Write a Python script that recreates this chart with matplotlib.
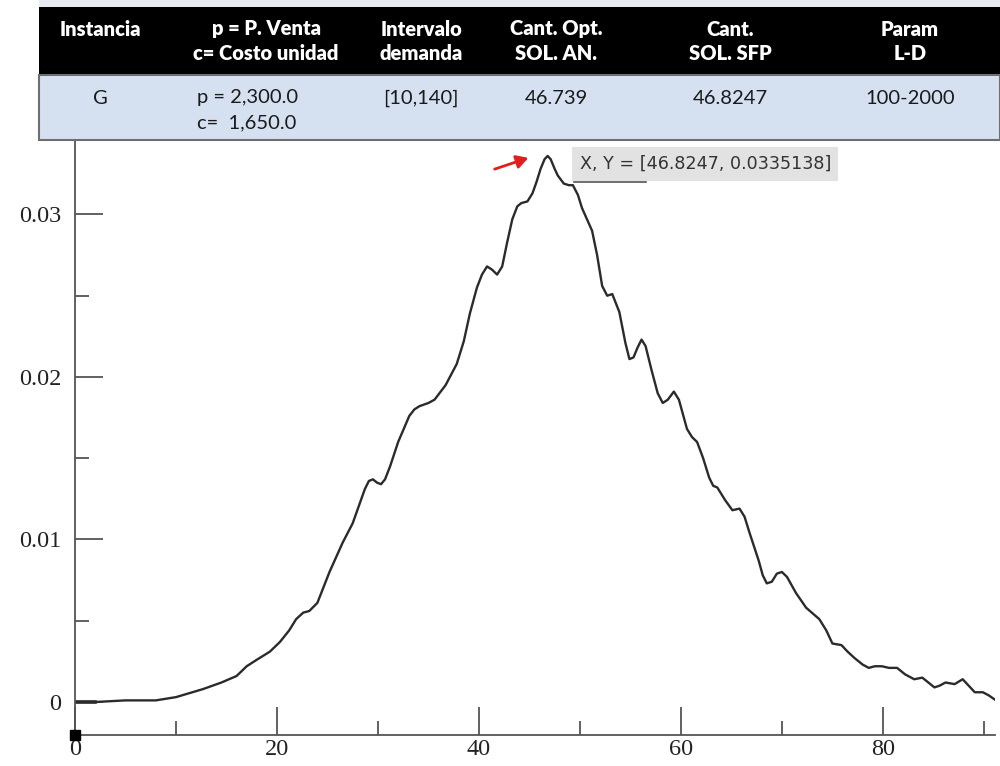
import matplotlib
matplotlib.use("Agg")
import matplotlib.pyplot as plt
from matplotlib.patches import Rectangle, FancyArrowPatch
from matplotlib.lines import Line2D
from matplotlib.ticker import MultipleLocator

# ---------------- data ----------------
curve_x = [0, 2, 5, 8, 10, 12.7, 14.5, 16, 17, 18, 19.3, 20.3, 21.2, 21.9,
           22.6, 23.2, 24, 25.2, 26.5, 27.5, 28.3, 28.7, 29.1, 29.5, 29.9,
           30.3, 30.7, 31.2, 32, 33.1, 33.6, 34.1, 35.0, 35.6, 36.7, 37.8,
           38.5, 39.1, 39.8, 40.3, 40.8, 41.3, 41.8, 42.3, 42.8, 43.3, 43.8,
           44.2, 44.8, 45.3, 45.7, 46.1, 46.5, 46.8, 47.1, 47.5, 47.8, 48.4,
           48.9, 49.3, 49.8, 50.2, 51.2, 51.7, 52.2, 52.7, 53.2, 53.9, 54.5,
           54.9, 55.3, 55.7, 56.1, 56.5, 57.1, 57.7, 58.2, 58.7, 59.3, 59.8,
           60.6, 61.1, 61.6, 62.2, 62.8, 63.2, 63.6, 64.4, 65.1, 65.8, 66.3,
           66.8, 67.7, 68.1, 68.5, 69.0, 69.5, 70.0, 70.5, 71.4, 72.4, 73.7,
           74.4, 75.0, 75.9, 76.5, 77.2, 78.0, 78.6, 79.2, 79.9, 80.6, 81.4,
           82.2, 83.1, 83.9, 84.5, 85.1, 85.6, 86.2, 87.1, 87.9, 88.5, 89.1,
           89.9, 90.5, 91.2]
curve_y = [0.0000, 0.0000, 0.0001, 0.0001, 0.0003, 0.0008, 0.0012, 0.0016,
           0.0022, 0.0026, 0.0031, 0.0037, 0.0044, 0.0051, 0.0055, 0.0056,
           0.0061, 0.0080, 0.0098, 0.0110, 0.0124, 0.0131, 0.0136, 0.0137,
           0.0135, 0.0134, 0.0137, 0.0145, 0.0160, 0.0176, 0.0180, 0.0182,
           0.0184, 0.0186, 0.0195, 0.0208, 0.0222, 0.0239, 0.0255, 0.0263,
           0.0268, 0.0266, 0.0263, 0.0268, 0.0283, 0.0297, 0.0305, 0.0307,
           0.0308, 0.0313, 0.0320, 0.0328, 0.0334, 0.0336, 0.0334, 0.0328,
           0.0324, 0.0319, 0.0318, 0.0318, 0.0312, 0.0304, 0.0290, 0.0275,
           0.0256, 0.0250, 0.0251, 0.0240, 0.0221, 0.0211, 0.0212, 0.0218,
           0.0223, 0.0219, 0.0204, 0.0190, 0.0184, 0.0186, 0.0191, 0.0186,
           0.0168, 0.0163, 0.0160, 0.0150, 0.0138, 0.0133, 0.0132, 0.0124,
           0.0118, 0.0119, 0.0114, 0.0104, 0.0087, 0.0078, 0.0073, 0.0074,
           0.0079, 0.0080, 0.0077, 0.0067, 0.0058, 0.0051, 0.0044, 0.0036,
           0.0035, 0.0031, 0.0027, 0.0023, 0.0021, 0.0022, 0.0022, 0.0021,
           0.0021, 0.0017, 0.0014, 0.0015, 0.0012, 0.0009, 0.0010, 0.0012,
           0.0011, 0.0014, 0.0010, 0.0006, 0.0006, 0.0004, 0.0001]

x_ticks = [0, 20, 40, 60, 80]
y_ticks = [0, 0.01, 0.02, 0.03]
y_tick_labels = ["0", "0.01", "0.02", "0.03"]

table_headers = [["Instancia"], ["p = P. Venta", "c= Costo unidad"],
                 ["Intervalo", "demanda"], ["Cant. Opt.", "SOL. AN."],
                 ["Cant.", "SOL. SFP"], ["Param", "L-D"]]
table_row = ["G", ["p = 2,300.0", "c=  1,650.0"], "[10,140]", "46.739",
             "46.8247", "100-2000"]
annot_text = "X, Y = [46.8247, 0.0335138]"

# ---------------- figure ----------------
W, H = 1000, 766
fig = plt.figure(figsize=(W / 100, H / 100), dpi=100)
fig.patch.set_facecolor("white")


def fx(px):
    return px / W


def fy(py):
    return 1 - py / H


ax_l, ax_r, ax_t, ax_b = 75, 995, 140, 735
ax = fig.add_axes([fx(ax_l), fy(ax_b), fx(ax_r) - fx(ax_l), fy(ax_t) - fy(ax_b)])
ax.plot(curve_x, curve_y, color="#2b2b2b", lw=1.7, solid_joinstyle="round")
ax.plot(curve_x[:2], curve_y[:2], color="#2b2b2b", lw=2.6)
ax.set_xlim(0, 91.1)
ax.set_ylim(-0.00203, 0.03458)

for s in ["top", "right"]:
    ax.spines[s].set_visible(False)
for s in ["left", "bottom"]:
    ax.spines[s].set_color("#555555")
    ax.spines[s].set_linewidth(1.3)

ax.set_xticks(x_ticks)
ax.set_xticklabels([str(v) for v in x_ticks])
ax.set_yticks(y_ticks)
ax.set_yticklabels(y_tick_labels)
ax.xaxis.set_minor_locator(MultipleLocator(10))
ax.yaxis.set_minor_locator(MultipleLocator(0.005))
ax.tick_params(which="major", direction="in", length=20, width=1.3,
               color="#555555", labelsize=17.5, labelcolor="#222222")
ax.tick_params(which="minor", direction="in", length=10, width=1.3,
               color="#555555")
ax.tick_params(axis="x", pad=3)
ax.tick_params(axis="y", pad=10)
for lab in ax.get_xticklabels() + ax.get_yticklabels():
    lab.set_fontfamily("Liberation Serif")

# origin marker
ax.plot([0], [-0.00203], marker="s", ms=7, color="black", clip_on=False,
        zorder=5)

# ---------------- table ----------------
tl, tr = 39, 1000
fig.add_artist(Rectangle((fx(tl), fy(75)), fx(tr) - fx(tl), fy(7) - fy(75),
                         transform=fig.transFigure, facecolor="black",
                         edgecolor="none"))
fig.add_artist(Rectangle((fx(tl), fy(140)), fx(tr) - fx(tl), fy(75) - fy(140),
                         transform=fig.transFigure, facecolor="#d5e0f1",
                         edgecolor="#6e6e6e", lw=1.5))
fig.add_artist(Rectangle((fx(tl), fy(7)), fx(tr) - fx(tl), fy(0) - fy(7),
                         transform=fig.transFigure, facecolor="#e8ecf2",
                         edgecolor="none"))

col_cx = [100, 266, 421, 556, 730, 910]
hdr_font = dict(family=["Lato", "DejaVu Sans"], fontsize=14.5,
                fontweight="heavy", color="white", ha="center", va="center")
body_font = dict(family=["Lato", "DejaVu Sans"], fontsize=14.5,
                 color="#1a1a1a", va="center")
for cx, lines in zip(col_cx, table_headers):
    for i, t in enumerate(lines):
        fig.text(fx(cx), fy(29 + 24 * i), t, **hdr_font)

for cx, val in zip(col_cx, table_row):
    if isinstance(val, list):
        for i, t in enumerate(val):
            fig.text(fx(197), fy(98 + 25 * i), t, ha="left", **body_font)
    else:
        fig.text(fx(cx), fy(98), val, ha="center", **body_font)

# ---------------- annotation ----------------
fig.add_artist(Rectangle((fx(572), fy(181)), fx(838) - fx(572), fy(147) - fy(181),
                         transform=fig.transFigure, facecolor="#e2e2e2",
                         edgecolor="none"))
fig.text(fx(580), fy(164), annot_text, ha="left", va="center", fontsize=12.6,
         family=["DejaVu Sans"], color="#333333")
fig.add_artist(Line2D([fx(574), fx(646)], [fy(182), fy(182)],
                      transform=fig.transFigure, color="#555555", lw=1.2))
fig.add_artist(FancyArrowPatch(
    (fx(492), fy(170)), (fx(531), fy(157)), transform=fig.transFigure,
    arrowstyle="-|>,head_length=7,head_width=4", color="#e02020", lw=2))

fig.savefig("out.png", dpi=100)
